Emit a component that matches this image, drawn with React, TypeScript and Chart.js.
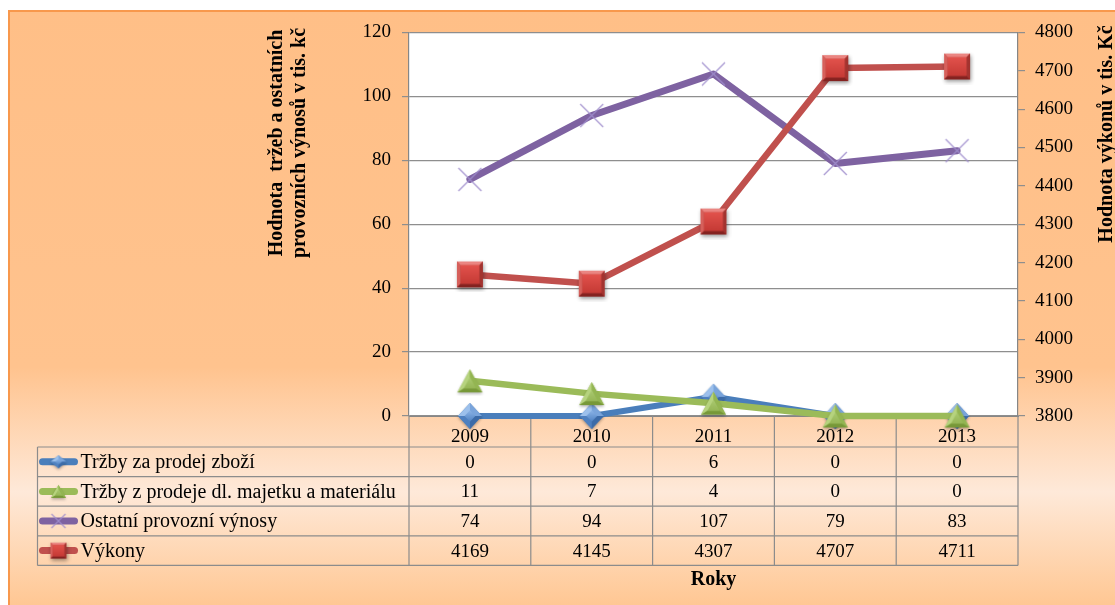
import React, { useEffect, useRef } from "react";
import { Chart, registerables } from "chart.js";

Chart.register(...registerables);

// Categories and series values
const years = ["2009", "2010", "2011", "2012", "2013"];
const trzbyZbozi = [0, 0, 6, 0, 0];
const trzbyMajetek = [11, 7, 4, 0, 0];
const ostatniVynosy = [74, 94, 107, 79, 83];
const vykony = [4169, 4145, 4307, 4707, 4711];

const seriesNames = [
  "Tržby za prodej zboží",
  "Tržby z prodeje dl. majetku a materiálu",
  "Ostatní provozní výnosy",
  "Výkony",
];
const seriesValues = [trzbyZbozi, trzbyMajetek, ostatniVynosy, vykony];
const seriesColors = ["#4A7EBB", "#9BBB59", "#7E62A1", "#C0504D"];

const leftTitle = ["Hodnota  tržeb a ostatních", "provozních výnosů v tis. kč"];
const rightTitle = "Hodnota výkonů v tis. Kč";
const xTitle = "Roky";

const leftRange = { min: 0, max: 120, step: 20 };
const rightRange = { min: 3800, max: 4800, step: 100 };

const SERIF = "'Liberation Serif', 'Times New Roman', serif";
const W = 1107;
const H = 595;

function makeCanvas(w: number, h: number) {
  const c = document.createElement("canvas");
  c.width = w;
  c.height = h;
  return c;
}

function tri(g: CanvasRenderingContext2D, a: number[], b: number[], c: number[], fill: string | CanvasGradient) {
  g.beginPath();
  g.moveTo(a[0], a[1]);
  g.lineTo(b[0], b[1]);
  g.lineTo(c[0], c[1]);
  g.closePath();
  g.fillStyle = fill;
  g.fill();
}

// Bevelled blue diamond
function diamondMarker(w: number, h: number) {
  const pad = 4;
  const c = makeCanvas(w + pad * 2, h + pad * 2);
  const g = c.getContext("2d")!;
  const cx = c.width / 2;
  const cy = c.height / 2;
  const top = [cx, cy - h / 2];
  const rgt = [cx + w / 2, cy];
  const bot = [cx, cy + h / 2];
  const lft = [cx - w / 2, cy];
  const ctr = [cx, cy];
  g.save();
  g.shadowColor = "rgba(0,0,0,0.3)";
  g.shadowBlur = 3;
  g.shadowOffsetY = 1.5;
  g.beginPath();
  g.moveTo(top[0], top[1]);
  g.lineTo(rgt[0], rgt[1]);
  g.lineTo(bot[0], bot[1]);
  g.lineTo(lft[0], lft[1]);
  g.closePath();
  g.fillStyle = "#4F81BD";
  g.fill();
  g.restore();
  tri(g, ctr, lft, top, "#9CC0EC");
  tri(g, ctr, top, rgt, "#79A4DB");
  tri(g, ctr, rgt, bot, "#3C6BA8");
  tri(g, ctr, bot, lft, "#4E80C0");
  // flat centre face
  const k = 0.45;
  const grad = g.createLinearGradient(cx, cy - (h / 2) * k, cx, cy + (h / 2) * k);
  grad.addColorStop(0, "#8DB5E8");
  grad.addColorStop(1, "#4F82C2");
  g.beginPath();
  g.moveTo(cx, cy - (h / 2) * k);
  g.lineTo(cx + (w / 2) * k, cy);
  g.lineTo(cx, cy + (h / 2) * k);
  g.lineTo(cx - (w / 2) * k, cy);
  g.closePath();
  g.fillStyle = grad;
  g.fill();
  return c;
}

// Bevelled green triangle
function triangleMarker(w: number, h: number) {
  const pad = 4;
  const c = makeCanvas(w + pad * 2, h + pad * 2);
  const g = c.getContext("2d")!;
  const cx = c.width / 2;
  const cy = c.height / 2;
  const top = [cx, cy - h / 2];
  const br = [cx + w / 2, cy + h / 2];
  const bl = [cx - w / 2, cy + h / 2];
  const ctr = [cx, cy + h / 6];
  g.save();
  g.shadowColor = "rgba(0,0,0,0.3)";
  g.shadowBlur = 3;
  g.shadowOffsetY = 1.5;
  tri(g, top, br, bl, "#9BBB59");
  g.restore();
  tri(g, ctr, bl, top, "#B6D37E");
  tri(g, ctr, top, br, "#93B552");
  tri(g, ctr, br, bl, "#779838");
  const k = 0.5;
  const grad = g.createLinearGradient(cx, cy - h / 2, cx, cy + h / 2);
  grad.addColorStop(0, "#B9D784");
  grad.addColorStop(1, "#8EAF4C");
  tri(
    g,
    [ctr[0] + (top[0] - ctr[0]) * k, ctr[1] + (top[1] - ctr[1]) * k],
    [ctr[0] + (br[0] - ctr[0]) * k, ctr[1] + (br[1] - ctr[1]) * k],
    [ctr[0] + (bl[0] - ctr[0]) * k, ctr[1] + (bl[1] - ctr[1]) * k],
    grad
  );
  return c;
}

// Thin purple cross
function crossMarker(s: number, lw: number) {
  const pad = 3;
  const c = makeCanvas(s + pad * 2, s + pad * 2);
  const g = c.getContext("2d")!;
  const cx = c.width / 2;
  const cy = c.height / 2;
  const r = s / 2;
  g.strokeStyle = "rgba(160,142,205,0.9)";
  g.lineWidth = lw;
  g.beginPath();
  g.moveTo(cx - r, cy - r);
  g.lineTo(cx + r, cy + r);
  g.moveTo(cx + r, cy - r);
  g.lineTo(cx - r, cy + r);
  g.stroke();
  return c;
}

// Bevelled red square
function squareMarker(s: number) {
  const pad = 5;
  const c = makeCanvas(s + pad * 2, s + pad * 2);
  const g = c.getContext("2d")!;
  const x0 = pad;
  const y0 = pad;
  const x1 = pad + s;
  const y1 = pad + s;
  const b = Math.max(2, s * 0.14);
  g.save();
  g.shadowColor = "rgba(0,0,0,0.4)";
  g.shadowBlur = 4;
  g.shadowOffsetX = 1;
  g.shadowOffsetY = 2;
  g.fillStyle = "#B8403C";
  g.fillRect(x0, y0, s, s);
  g.restore();
  const quad = (pts: number[][], fill: string) => {
    g.beginPath();
    g.moveTo(pts[0][0], pts[0][1]);
    for (let i = 1; i < pts.length; i++) g.lineTo(pts[i][0], pts[i][1]);
    g.closePath();
    g.fillStyle = fill;
    g.fill();
  };
  quad([[x0, y0], [x1, y0], [x1 - b, y0 + b], [x0 + b, y0 + b]], "#EA8581");
  quad([[x0, y0], [x0 + b, y0 + b], [x0 + b, y1 - b], [x0, y1]], "#D6605B");
  quad([[x1, y0], [x1, y1], [x1 - b, y1 - b], [x1 - b, y0 + b]], "#A3332F");
  quad([[x0, y1], [x0 + b, y1 - b], [x1 - b, y1 - b], [x1, y1]], "#842220");
  const grad = g.createLinearGradient(0, y0 + b, 0, y1 - b);
  grad.addColorStop(0, "#E2524C");
  grad.addColorStop(1, "#C53A35");
  g.fillStyle = grad;
  g.fillRect(x0 + b, y0 + b, s - 2 * b, s - 2 * b);
  return c;
}

const backgroundPlugin = {
  id: "frameBackground",
  beforeDraw(chart: any) {
    const { ctx, width, height, chartArea } = chart;
    ctx.save();
    const grad = ctx.createLinearGradient(0, 0, 0, height);
    grad.addColorStop(0, "#FFBF87");
    grad.addColorStop(0.6, "#FFC38E");
    grad.addColorStop(0.81, "#FEE9D9");
    grad.addColorStop(1, "#FFC793");
    ctx.fillStyle = grad;
    ctx.fillRect(0, 0, width, height);
    ctx.strokeStyle = "#F8984C";
    ctx.lineWidth = 2;
    ctx.beginPath();
    ctx.moveTo(1, height);
    ctx.lineTo(1, 1);
    ctx.lineTo(width, 1);
    ctx.stroke();
    ctx.fillStyle = "#FFFFFF";
    ctx.fillRect(chartArea.left, chartArea.top, chartArea.right - chartArea.left, chartArea.bottom - chartArea.top);
    ctx.restore();
  },
};

const tableFont = `19px ${SERIF}`;
const legendFont = `20px ${SERIF}`;
const titleFont = `bold 20px ${SERIF}`;

const keyMarkers: HTMLCanvasElement[] = [];

const tablePlugin = {
  id: "dataTable",
  beforeDatasetsDraw(chart: any) {
    const { ctx, chartArea } = chart;
    const { left, right, bottom } = chartArea;
    const xs = chart.scales.x;
    const headH = 31;
    const rowH = 29.6;
    const tableLeft = 29.5;
    const n = seriesNames.length;
    const tableBottom = bottom + headH + rowH * n;
    const colW = (right - left) / years.length;
    ctx.save();
    ctx.strokeStyle = "#8C8C8C";
    ctx.lineWidth = 1.2;
    ctx.beginPath();
    for (let i = 0; i <= years.length; i++) {
      const px = left + i * colW;
      ctx.moveTo(px, bottom);
      ctx.lineTo(px, tableBottom);
    }
    ctx.moveTo(tableLeft, bottom + headH);
    ctx.lineTo(tableLeft, tableBottom);
    for (let r = 0; r <= n; r++) {
      const py = bottom + headH + r * rowH;
      ctx.moveTo(tableLeft, py);
      ctx.lineTo(right, py);
    }
    ctx.stroke();

    ctx.fillStyle = "#000";
    ctx.textBaseline = "middle";
    for (let r = 0; r < n; r++) {
      const cy = bottom + headH + r * rowH + rowH / 2 + 1;
      // legend key
      ctx.strokeStyle = seriesColors[r];
      ctx.lineWidth = 7;
      ctx.lineCap = "round";
      ctx.beginPath();
      ctx.moveTo(tableLeft + 5, cy - 1);
      ctx.lineTo(tableLeft + 37, cy - 1);
      ctx.stroke();
      const m = keyMarkers[r];
      if (m) ctx.drawImage(m, tableLeft + 21 - m.width / 2, cy - 1 - m.height / 2);
      ctx.font = legendFont;
      ctx.textAlign = "left";
      ctx.fillStyle = "#000";
      ctx.fillText(seriesNames[r], tableLeft + 43, cy);
      ctx.font = tableFont;
      ctx.textAlign = "center";
      seriesValues[r].forEach((v, i) => {
        ctx.fillText(String(v), xs.getPixelForValue(i), cy);
      });
    }
    ctx.restore();
  },
  afterDraw(chart: any) {
    const { ctx, chartArea } = chart;
    ctx.save();
    ctx.fillStyle = "#000";
    ctx.font = titleFont;
    ctx.textAlign = "center";
    ctx.textBaseline = "middle";
    // left axis title (two lines, rotated)
    ctx.save();
    ctx.translate(281, 133);
    ctx.rotate(-Math.PI / 2);
    ctx.fillText(leftTitle[0], 0, -12);
    ctx.fillText(leftTitle[1], 0, 11);
    ctx.restore();
    // right axis title
    ctx.save();
    ctx.translate(1099, 124);
    ctx.rotate(-Math.PI / 2);
    ctx.fillText(rightTitle, 0, 0);
    ctx.restore();
    // x axis title
    ctx.fillText(xTitle, (chartArea.left + chartArea.right) / 2, 570);
    ctx.restore();
  },
};

export default function App() {
  const ref = useRef<HTMLCanvasElement>(null);

  useEffect(() => {
    const canvas = ref.current;
    if (!canvas) return;

    const diamond = diamondMarker(24, 26);
    const triangle = triangleMarker(25, 23);
    const cross = crossMarker(23, 1.3);
    const square = squareMarker(26);
    keyMarkers.length = 0;
    keyMarkers.push(diamondMarker(16, 13), triangleMarker(15, 13), crossMarker(14, 1.2), squareMarker(16));

    const tickFont = { family: SERIF, size: 19 };
    const gridColor = "#8E8E8E";
    const plain = (v: any) => String(v);

    const chart = new Chart(canvas, {
      type: "line",
      data: {
        labels: years,
        datasets: [
          {
            label: seriesNames[0],
            data: trzbyZbozi,
            yAxisID: "y",
            borderColor: seriesColors[0],
            borderWidth: 6,
            pointStyle: diamond,
            pointRadius: 12,
            order: 4,
            clip: false,
          },
          {
            label: seriesNames[1],
            data: trzbyMajetek,
            yAxisID: "y",
            borderColor: seriesColors[1],
            borderWidth: 6.5,
            pointStyle: triangle,
            pointRadius: 12,
            order: 3,
            clip: false,
          },
          {
            label: seriesNames[2],
            data: ostatniVynosy,
            yAxisID: "y",
            borderColor: seriesColors[2],
            borderWidth: 7,
            pointStyle: cross,
            pointRadius: 12,
            order: 2,
            clip: false,
          },
          {
            label: seriesNames[3],
            data: vykony,
            yAxisID: "y1",
            borderColor: seriesColors[3],
            borderWidth: 6.5,
            pointStyle: square,
            pointRadius: 13,
            order: 1,
            clip: false,
          },
        ],
      },
      options: {
        responsive: false,
        animation: false,
        events: [],
        layout: { padding: { top: 20, left: 0, right: 0, bottom: 0 } },
        elements: {
          line: { tension: 0, borderCapStyle: "round", borderJoinStyle: "round", fill: false },
        },
        plugins: {
          legend: { display: false },
          tooltip: { enabled: false },
          title: { display: false },
        },
        scales: {
          x: {
            type: "category",
            offset: true,
            grid: { display: false, offset: true },
            border: { display: true, color: "#868686", width: 1 },
            ticks: { color: "#000", font: tickFont, padding: 2, maxRotation: 0, autoSkip: false },
            afterFit: (s: any) => {
              s.height = 189;
            },
          },
          y: {
            position: "left",
            min: leftRange.min,
            max: leftRange.max,
            ticks: { stepSize: leftRange.step, color: "#000", font: tickFont, padding: 11, callback: plain },
            grid: { color: gridColor, lineWidth: 1.2, tickLength: 7, drawTicks: true },
            border: { color: "#868686", width: 1.2 },
            afterFit: (s: any) => {
              s.width = 401;
            },
          },
          y1: {
            position: "right",
            min: rightRange.min,
            max: rightRange.max,
            ticks: { stepSize: rightRange.step, color: "#000", font: tickFont, padding: 10, callback: plain },
            grid: { drawOnChartArea: false, color: gridColor, lineWidth: 1.2, tickLength: 7, drawTicks: true },
            border: { color: "#868686", width: 1.2 },
            afterFit: (s: any) => {
              s.width = 97;
            },
          },
        },
      },
      plugins: [backgroundPlugin, tablePlugin],
    } as any);

    return () => chart.destroy();
  }, []);

  return (
    <div style={{ position: "fixed", left: 8, top: 10, width: W, height: H, overflow: "hidden" }}>
      <canvas ref={ref} width={W} height={H} style={{ display: "block" }} />
    </div>
  );
}
